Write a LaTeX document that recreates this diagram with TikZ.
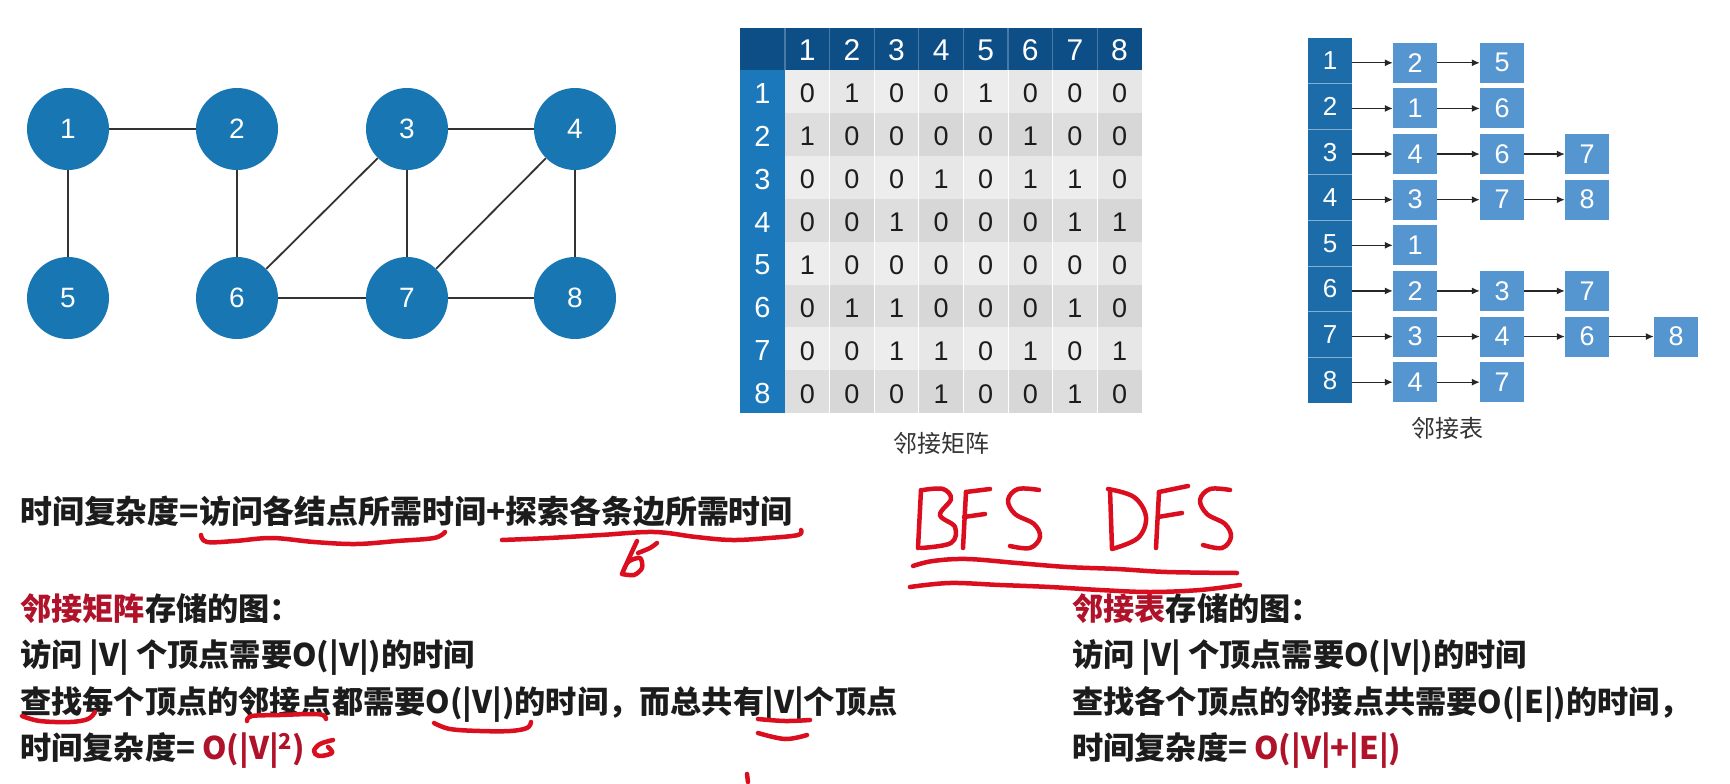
\documentclass[tikz,border=0pt]{standalone}
\usepackage{fontspec}
\setmainfont{Liberation Sans}
\newfontfamily\cjk{Noto Sans CJK SC}
\usetikzlibrary{arrows.meta}

\definecolor{nodeblue}{RGB}{24,118,178}
\definecolor{navy}{RGB}{14,78,134}
\definecolor{colblue}{RGB}{27,121,187}
\definecolor{listdark}{RGB}{28,108,170}
\definecolor{listlight}{RGB}{86,150,208}
\definecolor{textred}{RGB}{176,18,42}
\definecolor{inkred}{RGB}{218,14,30}
\definecolor{textdark}{RGB}{28,28,28}

\begin{document}
\begin{tikzpicture}[x=1pt,y=-1pt,
  vertex/.style={circle,fill=nodeblue,minimum size=82pt,inner sep=0pt,
    text=white,font=\fontsize{28}{28}\selectfont},
  edge/.style={line width=1.8pt,draw=black!80},
  numtxt/.style={inner sep=0pt,font=\fontsize{27}{27}\selectfont},
  headcell/.style={rectangle,fill=listdark,minimum width=44pt,minimum height=45.6pt,
    inner sep=0pt,text=white,font=\fontsize{26}{26}\selectfont},
  listbox/.style={rectangle,fill=listlight,minimum width=44pt,minimum height=40pt,
    inner sep=0pt,text=white,font=\fontsize{27}{27}\selectfont},
  arr/.style={line width=1.3pt,draw=black!85,-{Latex[length=8pt,width=7pt]}},
  caption/.style={inner sep=0pt,text=textdark!90,font=\cjk\fontsize{24}{26}\selectfont},
  line/.style={anchor=base west,inner sep=0pt,text=textdark,
    font=\cjk\bfseries\fontsize{31.2}{36}\selectfont},
  ink/.style={draw=inkred,line width=4.5pt,line cap=round,line join=round},
]
\fill[white] (0,0) rectangle (1730,784);
\useasboundingbox (0,0) rectangle (1730,784);

% ---------------- undirected graph ----------------
\node[vertex] (v1) at (68,129) {1};
\node[vertex] (v2) at (237,129) {2};
\node[vertex] (v3) at (407,129) {3};
\node[vertex] (v4) at (575,129) {4};
\node[vertex] (v5) at (68,298) {5};
\node[vertex] (v6) at (237,298) {6};
\node[vertex] (v7) at (407,298) {7};
\node[vertex] (v8) at (575,298) {8};
\foreach \a/\b in {1/2,1/5,2/6,3/4,3/6,3/7,4/7,4/8,6/7,7/8}
  \draw[edge] (v\a) -- (v\b);

% ---------------- adjacency matrix ----------------
\def\mx{785}\def\my{70}\def\cw{44.6}\def\rh{42.9}
\fill[navy] (740,28) rectangle (1142,\my);
\fill[colblue] (740,\my) rectangle (\mx,413);
\foreach \r in {1,...,8}{
  \foreach \c in {1,...,8}{
    \pgfmathsetmacro\shade{(isodd(\r)?7:13)+(isodd(\c)?0:2.5)}
    \fill[black!\shade] ({\mx+\cw*(\c-1)},{\my+\rh*(\r-1)}) rectangle +(\cw,\rh);
  }
}
\foreach \c in {1,...,7}
  \draw[white,line width=1pt] ({\mx+\cw*\c},\my) -- ({\mx+\cw*\c},413);
\foreach \c in {0,...,7}
  \draw[navy!75!white,line width=1.2pt] ({\mx+\cw*\c},28) -- ({\mx+\cw*\c},\my);
\foreach \c in {1,...,8}
  \node[numtxt,text=white,font=\fontsize{30}{30}\selectfont] (mh\c) at ({\mx+\cw*(\c-0.5)},50) {\c};
\foreach \r in {1,...,8}
  \node[numtxt,text=white,font=\fontsize{29}{29}\selectfont] (mr\r) at (762.5,{\my+\rh*(\r-0.5)+2}) {\r};
\foreach \row [count=\r] in {
  {0,1,0,0,1,0,0,0},{1,0,0,0,0,1,0,0},{0,0,0,1,0,1,1,0},{0,0,1,0,0,0,1,1},
  {1,0,0,0,0,0,0,0},{0,1,1,0,0,0,1,0},{0,0,1,1,0,1,0,1},{0,0,0,1,0,0,1,0}}{
  \foreach \v [count=\c] in \row
    \node[numtxt,text=textdark] (m-\r-\c) at ({\mx+\cw*(\c-0.5)},{\my+\rh*(\r-0.5)+2}) {\v};
}
\node[caption] (capm) at (941,443) {邻接矩阵};

% ---------------- adjacency list ----------------
\def\ly{38}\def\lh{45.625}
\foreach \i in {1,...,8}
  \node[headcell] (h\i) at (1330,{\ly+\lh*(\i-0.5)}) {\i};
\foreach \i in {1,...,7}
  \draw[listdark!55!white,line width=0.8pt] (1308,{\ly+\lh*\i}) -- (1352,{\ly+\lh*\i});
\foreach \i/\lst in {1/{2,5},2/{1,6},3/{4,6,7},4/{3,7,8},5/{1},6/{2,3,7},7/{3,4,6,8},8/{4,7}}{
  \foreach \v [count=\k] in \lst {
    \pgfmathsetmacro\bx{{1415,1502,1587,1676}[\k-1]}
    \node[listbox] (b-\i-\k) at (\bx,{\ly+\lh*(\i-0.5)+2}) {\v};
  }
  \draw[arr] (h\i.east |- b-\i-1.west) -- (b-\i-1.west);
  \foreach \v [count=\k, remember=\k as \p (initially 0)] in \lst {
    \ifnum\k>1 \draw[arr] (b-\i-\p.east) -- (b-\i-\k.west); \fi
  }
}
\node[caption] (capl) at (1447,428) {邻接表};

% ---------------- text ----------------
\node[line,font=\cjk\bfseries\fontsize{31.9}{36}\selectfont] (t0) at (20,523)
  {时间复杂度=访问各结点所需时间+探索各条边所需时间};

\node[line] (l1) at (20,620) {\textcolor{textred}{邻接矩阵}存储的图：};
\node[line] (l2) at (20,666) {访问 |V| 个顶点需要O(|V|)的时间};
\node[line] (l3) at (20,713) {查找每个顶点的邻接点都需要O(|V|)的时间，而总共有|V|个顶点};
\node[line] (l4) at (20,759) {时间复杂度= \textcolor{textred}{O(|V|\textsuperscript{2})}};

\node[line] (r1) at (1072,620) {\textcolor{textred}{邻接表}存储的图：};
\node[line] (r2) at (1072,666) {访问 |V| 个顶点需要O(|V|)的时间};
\node[line] (r3) at (1072,713) {查找各个顶点的邻接点共需要O(|E|)的时间，};
\node[line] (r4) at (1072,759) {时间复杂度= \textcolor{textred}{O(|V|+|E|)}};

% ---------------- handwritten red ink ----------------
% underlines of the first formula
\draw[ink] plot[smooth,tension=0.6] coordinates
  {(201,535) (207,542) (235,541) (272,538) (314,542) (356,544) (397,541) (434,538) (445,532)};
\draw[ink] plot[smooth,tension=0.6] coordinates
  {(502,540) (549,538) (601,535) (654,532) (696,537) (732,540) (769,538) (798,535) (801,530)};
\draw[ink] plot[smooth,tension=0.5] coordinates
  {(637,541) (630,556) (622,574) (628,562) (640,558) (642,568) (634,575) (622,574)};
\draw[ink] plot[smooth,tension=0.5] coordinates {(638,553) (650,548) (657,543)};

% BFS
\draw[ink] (921,490) -- (918,548);
\draw[ink] plot[smooth,tension=0.6] coordinates
  {(923,490) (943,489) (951,499) (940,515) (955,527) (951,543) (921,548)};
\draw[ink] (966,492) -- (963,548);
\draw[ink] (966,492) -- (990,489);
\draw[ink] (964,517) -- (985,514);
\draw[ink] plot[smooth,tension=0.6] coordinates
  {(1039,490) (1018,489) (1008,500) (1015,514) (1034,524) (1040,537) (1030,548) (1010,546)};
% DFS
\draw[ink] (1110,490) -- (1112,548);
\draw[ink] plot[smooth,tension=0.6] coordinates
  {(1108,489) (1134,497) (1146,517) (1138,538) (1112,549)};
\draw[ink] (1159,492) -- (1156,548);
\draw[ink] (1159,492) -- (1188,486);
\draw[ink] (1158,517) -- (1182,513);
\draw[ink] plot[smooth,tension=0.6] coordinates
  {(1230,490) (1210,489) (1200,500) (1207,514) (1225,524) (1231,537) (1222,548) (1203,545)};
% double underline of BFS DFS
\draw[ink] plot[smooth,tension=0.6] coordinates
  {(913,566) (933,561) (967,559) (1017,563) (1067,567) (1117,569) (1167,572) (1237,573)};
\draw[ink] plot[smooth,tension=0.6] coordinates
  {(910,587) (950,583) (1000,585) (1050,587) (1100,590) (1150,592) (1200,590) (1240,585)};

% marks in the adjacency-matrix paragraph
\draw[ink] plot[smooth,tension=0.6] coordinates {(22,716) (40,721) (70,722) (88,719) (95,712)};
\draw[ink] plot[smooth,tension=0.6] coordinates {(247,721) (252,716) (280,715) (310,714) (323,715) (326,719)};
\draw[ink] plot[smooth,tension=0.6] coordinates {(434,723) (450,729) (480,731) (510,731) (527,728) (531,722)};
\draw[ink] plot[smooth,tension=0.6] coordinates {(758,719) (785,721) (810,720)};
\draw[ink] plot[smooth,tension=0.6] coordinates {(758,733) (785,739) (807,735)};
\draw[ink] plot[smooth,tension=0.6] coordinates {(333,740) (320,744) (314,751) (319,756) (332,753) (328,747)};
\draw[ink] (747,774) -- (748,782);
\end{tikzpicture}
\end{document}
